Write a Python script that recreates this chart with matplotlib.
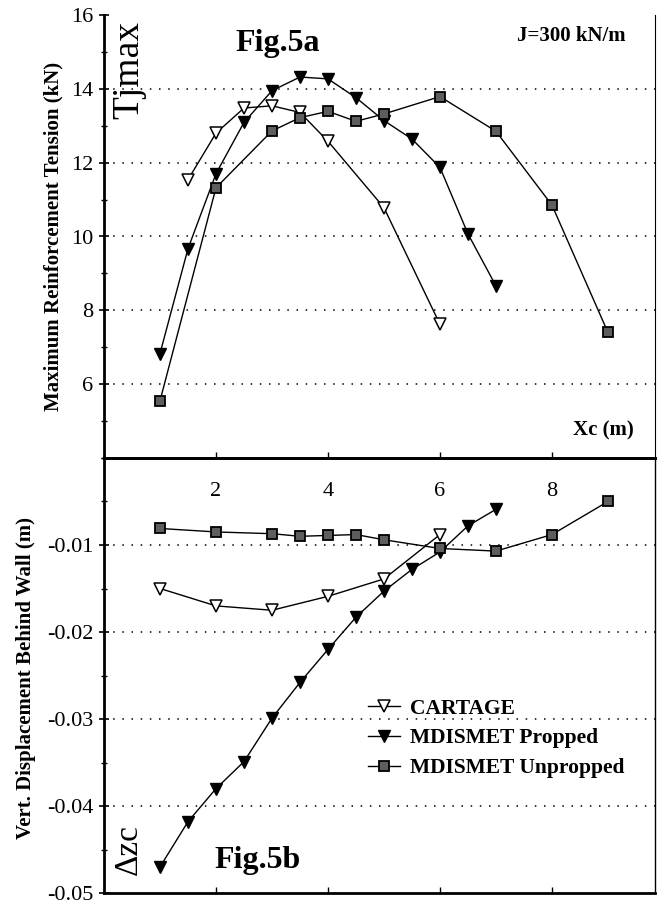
import matplotlib
matplotlib.use("Agg")
import matplotlib.pyplot as plt
from matplotlib.ticker import MultipleLocator

plt.rcParams['font.family'] = ['Liberation Serif', 'DejaVu Serif']

# ---- Fig.5a data: maximum reinforcement tension (kN) ----
cart_a_x = [1.5, 2, 2.5, 3, 3.5, 4, 5, 6]
cart_a_y = [11.54, 12.80, 13.48, 13.54, 13.36, 12.58, 10.78, 7.62]

prop_a_x = [1, 1.5, 2, 2.5, 3, 3.5, 4, 4.5, 5, 5.5, 6, 6.5, 7]
prop_a_y = [6.83, 9.67, 11.70, 13.09, 13.95, 14.32, 14.27, 13.76, 13.14, 12.64, 11.87, 10.07, 8.66]

unprop_a_x = [1, 2, 3, 3.5, 4, 4.5, 5, 6, 7, 8, 9]
unprop_a_y = [5.55, 11.32, 12.86, 13.22, 13.39, 13.12, 13.32, 13.79, 12.85, 10.85, 7.40]

# ---- Fig.5b data: vertical displacement behind wall (m) ----
cart_b_x = [1, 2, 3, 4, 5, 6]
cart_b_y = [-0.0150, -0.0170, -0.0175, -0.0159, -0.0139, -0.0088]

prop_b_x = [1, 1.5, 2, 2.5, 3, 3.5, 4, 4.5, 5, 5.5, 6, 6.5, 7]
prop_b_y = [-0.0470, -0.0418, -0.0380, -0.0349, -0.0299, -0.0258, -0.0220,
            -0.0183, -0.0153, -0.0128, -0.0108, -0.0078, -0.0059]

unprop_b_x = [1, 2, 3, 3.5, 4, 4.5, 5, 6, 7, 8, 9]
unprop_b_y = [-0.0081, -0.0085, -0.0087, -0.0090, -0.0089, -0.0088, -0.0094,
              -0.0104, -0.0107, -0.0088, -0.0050]

x_ticks = [2, 4, 6, 8]
ya_ticks = [6, 8, 10, 12, 14, 16]
yb_ticks = [-0.05, -0.04, -0.03, -0.02, -0.01]
series_labels = ["CARTAGE", "MDISMET Propped", "MDISMET Unpropped"]

W, H = 665, 905
fig = plt.figure(figsize=(W / 100, H / 100), dpi=100)
L, R = 104 / W, 655 / W
TOP, MID, BOT = 15, 458, 893
ax1 = fig.add_axes([L, 1 - MID / H, R - L, (MID - TOP) / H])
ax2 = fig.add_axes([L, 1 - BOT / H, R - L, (BOT - MID) / H])
ax2.set_facecolor('none')

tri_open = dict(marker='v', ms=8.5, mfc='white', mec='black', mew=1.1)
tri_fill = dict(marker='v', ms=8.5, mfc='black', mec='black', mew=1.0)
sq_fill = dict(marker='s', ms=7.5, mfc='#5e5e5e', mec='black', mew=1.3)
lk = dict(color='black', lw=1.0)

grid_ls = (0, (1, 5))

# ---- top panel ----
for y in [6, 8, 10, 12, 14]:
    ax1.axhline(y, color='black', ls=grid_ls, lw=1.1, zorder=0)
ax1.plot(cart_a_x, cart_a_y, **lk, **tri_open)
ax1.plot(prop_a_x, prop_a_y, **lk, **tri_fill)
ax1.plot(unprop_a_x, unprop_a_y, **lk, **sq_fill)
ax1.set_xlim(0, 9.84)
ax1.set_ylim(4, 16)
ax1.set_yticks(ya_ticks)
ax1.yaxis.set_minor_locator(MultipleLocator(1))
ax1.set_xticks(x_ticks)
ax1.tick_params(axis='x', direction='in', length=4, width=1, pad=17, labelsize=16)
ax1.tick_params(axis='y', which='major', direction='inout', length=7, width=1.2, labelsize=16, pad=4)
ax1.tick_params(axis='y', which='minor', direction='inout', length=4, width=1)
ax1.spines['top'].set_visible(False)
ax1.spines['left'].set_linewidth(2.0)
ax1.spines['right'].set_linewidth(0.8)
ax1.spines['bottom'].set_linewidth(2.0)
ax1.set_ylabel("Maximum Reinforcement Tension (kN)", fontsize=15,
               fontweight='bold')
ax1.yaxis.set_label_coords(-0.073, 0.5)

ax1.text(0.045, 0.876, "Tjmax", transform=ax1.transAxes, rotation=90,
         fontsize=27, ha='center', va='center')
ax1.text(0.316, 0.935, "Fig.5a", transform=ax1.transAxes, fontsize=23,
         fontweight='bold', ha='center', va='center')
ax1.text(0.849, 0.953, "J=300 kN/m", transform=ax1.transAxes, fontsize=15,
         fontweight='bold', ha='center', va='center')
ax1.text(0.907, 0.063, "Xc (m)", transform=ax1.transAxes, fontsize=15,
         fontweight='bold', ha='center', va='center')

# ---- bottom panel ----
for y in [-0.04, -0.03, -0.02, -0.01]:
    ax2.axhline(y, color='black', ls=grid_ls, lw=1.1, zorder=0)
h1, = ax2.plot(cart_b_x, cart_b_y, **lk, **tri_open)
h2, = ax2.plot(prop_b_x, prop_b_y, **lk, **tri_fill)
h3, = ax2.plot(unprop_b_x, unprop_b_y, **lk, **sq_fill)
ax2.set_xlim(0, 9.84)
ax2.set_ylim(-0.05, 0)
ax2.set_yticks(yb_ticks)
ax2.set_yticklabels([f"{v:g}" for v in yb_ticks])
ax2.yaxis.set_minor_locator(MultipleLocator(0.005))
ax2.set_xticks(x_ticks)
ax2.set_xticklabels([])
ax2.tick_params(axis='x', direction='in', length=4, width=1)
ax2.tick_params(axis='y', which='major', direction='inout', length=7, width=1.2, labelsize=16, pad=4)
ax2.tick_params(axis='y', which='minor', direction='inout', length=4, width=1)
for s in ['left', 'top', 'bottom']:
    ax2.spines[s].set_linewidth(2.0)
ax2.spines['right'].set_linewidth(1.0)
ax2.set_ylabel("Vert. Displacement Behind Wall (m)", fontsize=15,
               fontweight='bold')
ax2.yaxis.set_label_coords(-0.123, 0.495)

ax2.text(0.045, 0.1, "Δzc", transform=ax2.transAxes, rotation=90,
         fontsize=24, ha='center', va='center')
ax2.text(0.278, 0.075, "Fig.5b", transform=ax2.transAxes, fontsize=23,
         fontweight='bold', ha='center', va='center')

ax2.legend([h1, h2, h3], series_labels, loc='upper left',
           bbox_to_anchor=(0.479, 0.447), frameon=False, borderpad=0,
           borderaxespad=0, handlelength=1.5, handletextpad=0.45,
           labelspacing=0.45, prop={'size': 15.5, 'weight': 'bold'})

fig.savefig("out.png", dpi=100)
